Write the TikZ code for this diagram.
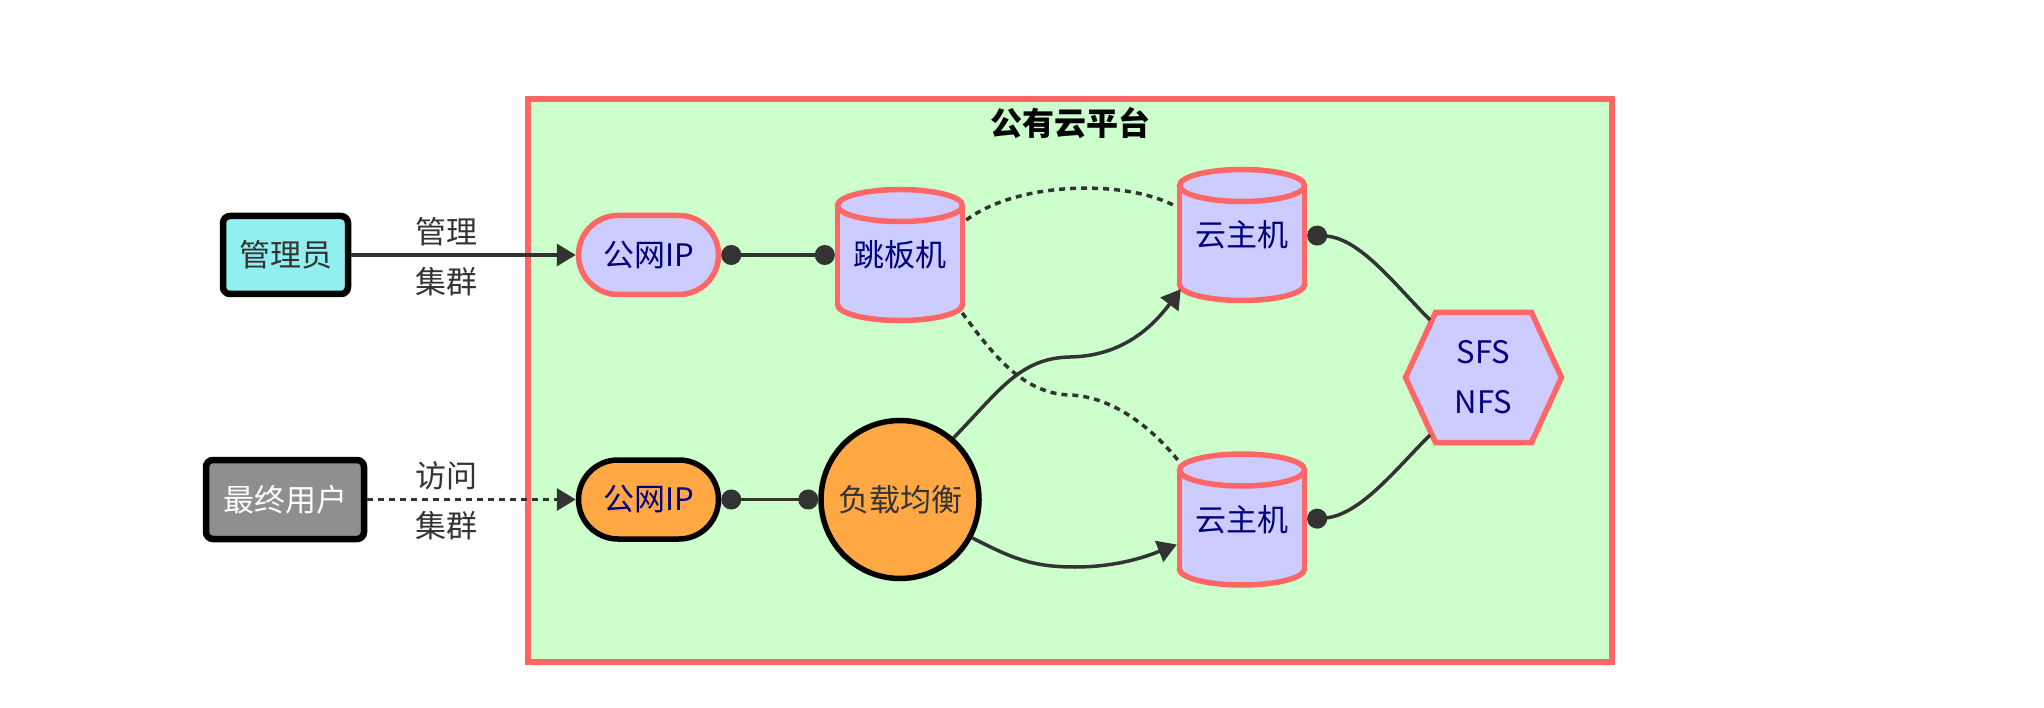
\documentclass[tikz,border=0pt]{standalone}
\usepackage{fontspec}
\setmainfont{Noto Sans CJK SC}
\usetikzlibrary{arrows.meta,shapes.misc,calc}
\definecolor{clfill}{HTML}{CCFFCC}
\definecolor{redb}{HTML}{FF6666}
\definecolor{lav}{HTML}{CCCCFF}
\definecolor{cyanc}{HTML}{91F0EF}
\definecolor{grayc}{HTML}{8F8F8F}
\definecolor{orangec}{HTML}{FFA844}
\definecolor{navy}{HTML}{000080}
\definecolor{tx}{HTML}{333333}
\definecolor{ec}{HTML}{333333}
\newcommand\dbshape[1]{%
  \begin{scope}[shift={(#1)}]
    \filldraw[cylst] (0,49.5) ellipse[x radius=62.5pt, y radius=16pt];
    \fill[lav] (-60.5,-49.5) rectangle (60.5,49.5);
    \draw[draw=redb, line width=5.5pt] (-62.5,-49.5) -- (-62.5,49.5) (62.5,-49.5) -- (62.5,49.5);
    \filldraw[cylst] (0,-49.5) ellipse[x radius=62.5pt, y radius=16pt];
  \end{scope}}
\begin{document}
\begin{tikzpicture}[x=1pt,y=-1pt,
  base/.style={font=\fontsize{31}{50}\selectfont, inner sep=0pt, align=center},
  admin/.style={base, rectangle, rounded corners=7pt, draw=black, line width=6.5pt, fill=cyanc, text=tx, minimum width=125pt, minimum height=78pt},
  enduser/.style={base, rectangle, rounded corners=7pt, draw=black, line width=6.5pt, fill=grayc, text=white, minimum width=158pt, minimum height=79pt},
  ipa/.style={base, rounded rectangle, draw=redb, line width=5.5pt, fill=lav, text=navy, minimum width=140pt, minimum height=79pt},
  ipb/.style={base, rounded rectangle, draw=black, line width=5.5pt, fill=orangec, text=navy, minimum width=140pt, minimum height=79pt},
  lbal/.style={base, circle, draw=black, line width=5.5pt, fill=orangec, text=tx, minimum size=158pt},
  cyltext/.style={base, rectangle, text=navy, minimum width=130pt, minimum height=136pt},
  cylst/.style={fill=lav, draw=redb, line width=5.5pt},
  hextext/.style={base, rectangle, text=navy, minimum width=160pt, minimum height=136pt},
  lbl/.style={base, text=tx},
  edge/.style={draw=ec, line width=3.5pt},
  dotted line/.style={edge, dash pattern=on 6pt off 5pt},
  arr/.style={-{Triangle[length=19pt,width=22pt]}},
  dots/.style={{Circle[length=20pt]}-{Circle[length=20pt]}},
  dotstart/.style={{Circle[length=20pt]}-},
]
\useasboundingbox (0,0) rectangle (2044,708);
\fill[white] (0,0) rectangle (2044,708);

% cluster
\node[draw=redb, line width=5.5pt, fill=clfill, minimum width=1084pt, minimum height=563pt, inner sep=0pt] (pc) at (1070,380.5) {};
\node[base, font=\fontsize{32}{36}\selectfont\bfseries, text=black] (title) at (1070,123) {公有云平台};

% cylinder shapes
\coordinate (jbc) at (900,255);
\coordinate (c1c) at (1242,235);
\coordinate (c2c) at (1242,519.5);
\coordinate (hexc) at (1483.5,377.5);
\dbshape{jbc}
\dbshape{c1c}
\dbshape{c2c}
% hexagon
\filldraw[cylst] ($(hexc)+(-78,0)$) -- ($(hexc)+(-48,-65)$) -- ($(hexc)+(48,-65)$) -- ($(hexc)+(78,0)$) -- ($(hexc)+(48,65)$) -- ($(hexc)+(-48,65)$) -- cycle;

% nodes
\node[admin] (adm) at (285.5,255) {管理员};
\node[enduser] (usr) at (285,499.5) {最终用户};
\node[ipa] (ip1) at (648.5,255) {公网IP};
\node[ipb] (ip2) at (648.5,499.5) {公网IP};
\node[cyltext] (jb) at (jbc) {跳板机};
\node[lbal] (lb) at (900,499.5) {负载均衡};
\node[cyltext] (c1) at (c1c) {云主机};
\node[cyltext] (c2) at (c2c) {云主机};
\node[hextext] (hex) at (hexc) {SFS\\NFS};

% edge labels
\node[lbl] (l1) at (446,257) {管理\\集群};
\node[lbl] (l2) at (446,501) {访问\\集群};

% edges
\draw[edge,arr] (adm.east) -- (ip1.west);
\draw[dotted line,arr] (usr.east) -- (ip2.west);
\draw[edge,dots] (ip1.east) -- (jb.west);
\draw[edge,dots] (ip2.east) -- (lb.west);
\draw[dotted line] ($(jb.east)+(1,-35)$) .. controls (1020,180) and (1130,180) .. ($(c1.west)+(0,-28)$);
\draw[dotted line] ($(jb.east)+(-3,58)$) .. controls (990,350) and (1020,393) .. (1069,395) .. controls (1110,396) and (1150,425) .. ($(c2.west)+(3,-57)$);
\draw[edge,arr] (lb.49) .. controls (1000,390) and (1020,358) .. (1070,357) .. controls (1120,356) and (1150,330) .. ($(c1.south west)+(4,-14)$);
\draw[edge,arr] (lb.-28) .. controls (1010,557) and (1030,567) .. (1075,567) .. controls (1120,567) and (1150,555) .. ($(c2.west)+(0,25)$);
\draw[edge,dotstart] (c1.east) .. controls (1360,238) and (1395,285) .. ($(hex.center)+(-53.5,-57.5)$);
\draw[edge,dotstart] (c2.east) .. controls (1360,515) and (1395,470) .. ($(hex.center)+(-53.5,57.5)$);
\end{tikzpicture}
\end{document}
